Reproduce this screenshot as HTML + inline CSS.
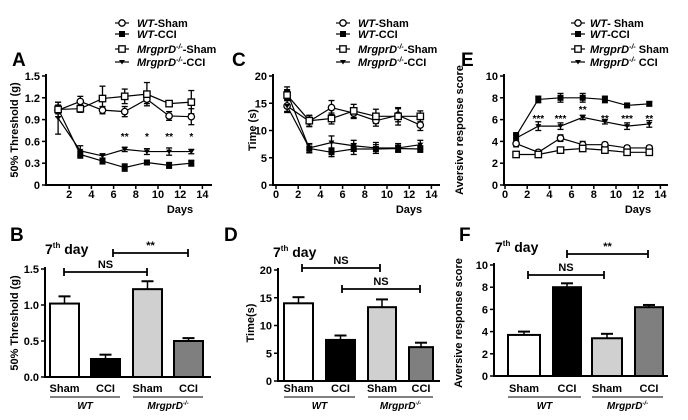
<!DOCTYPE html>
<html><head><meta charset="utf-8"><style>
html,body{margin:0;padding:0;background:#fff;}
svg{display:block;font-family:"Liberation Sans",Arial,sans-serif;font-weight:bold;}
</style></head><body>
<svg id="s" width="688" height="420" viewBox="0 0 688 420" xmlns="http://www.w3.org/2000/svg"></svg>
<script>
const S=document.getElementById('s');let h='';
function t(x,y,s,sz,o){o=o||{};h+=`<text x="${x}" y="${y}" font-size="${sz}" ${o.a?`text-anchor="${o.a}"`:''} ${o.i?'font-style="italic"':''} ${o.r?`transform="rotate(-90 ${x} ${y})"`:''} ${o.w?`font-weight="${o.w}"`:''}>${s}</text>`;}
function l(x1,y1,x2,y2,w){h+=`<line x1="${x1}" y1="${y1}" x2="${x2}" y2="${y2}" stroke="#000" stroke-width="${w||1.5}"/>`;}
function mk(type,x,y){
 if(type==0)h+=`<circle cx="${x}" cy="${y}" r="3.2" fill="#fff" stroke="#000" stroke-width="1.3"/>`;
 else if(type==1)h+=`<rect x="${x-3}" y="${y-3}" width="6" height="6" fill="#000"/>`;
 else if(type==2)h+=`<rect x="${x-3.2}" y="${y-3.2}" width="6.4" height="6.4" fill="#fff" stroke="#000" stroke-width="1.3"/>`;
 else h+=`<path d="M${x-3} ${y-2}L${x+3} ${y-2}L${x} ${y+2.5}Z" fill="#000"/>`;
}
function legend(mx,tx,ys,lab){
 ys.forEach((y,i)=>{l(mx-7,y,mx+7,y,1.2);mk(i,mx,y);
  h+=`<text x="${tx}" y="${y+4}" font-size="11">${lab[i]}</text>`;});
}
const LA=['<tspan font-style="italic">WT</tspan>-Sham','<tspan font-style="italic">WT</tspan>-CCI','<tspan font-style="italic">MrgprD<tspan font-size="7" dy="-4">-/-</tspan></tspan><tspan dy="4">-Sham</tspan>','<tspan font-style="italic">MrgprD<tspan font-size="7" dy="-4">-/-</tspan></tspan><tspan dy="4">-CCI</tspan>'];
const LE=['<tspan font-style="italic">WT</tspan>- Sham','<tspan font-style="italic">WT</tspan>-CCI','<tspan font-style="italic">MrgprD<tspan font-size="7" dy="-4">-/-</tspan></tspan><tspan dy="4"> Sham</tspan>','<tspan font-style="italic">MrgprD<tspan font-size="7" dy="-4">-/-</tspan></tspan><tspan dy="4"> CCI</tspan>'];
const days=[1,3,5,7,9,11,13];
function linePanel(o){
 const X=d=>o.x0+d*11.1, Y=v=>o.yb-(v/o.ymax)*(o.yb-76);
 l(o.ax,74,o.ax,o.yb+1,2);l(o.ax-1,o.yb,o.xe,o.yb,2);
 o.yt.forEach(v=>{l(o.ax-4,Y(v),o.ax,Y(v),1.5);t(o.ax-6,Y(v)+4,v,11,{a:'end'});});
 o.xt.forEach(d=>{l(X(d),o.yb,X(d),o.yb+4,1.5);t(X(d),198,d,11,{a:'middle'});});
 t(o.x0+133,213,'Days',11,{a:'middle'});
 t(o.ylx,130,o.yl,11,{a:'middle',r:1});
 o.data.forEach((ser,si)=>{
  let p=ser.map((v,i)=>`${X(days[i])},${Y(v)}`).join(' ');
  h+=`<polyline points="${p}" fill="none" stroke="#000" stroke-width="1.2"/>`;
  ser.forEach((v,i)=>{const e=o.err[si][i]*(o.yb-76)/o.ymax;const x=X(days[i]),y=Y(v);
   l(x,y-e,x,y+e,1.3);l(x-3,y-e,x+3,y-e,1.3);l(x-3,y+e,x+3,y+e,1.3);});
 });
 o.data.forEach((ser,si)=>ser.forEach((v,i)=>mk(si,X(days[i]),Y(v))));
 (o.stars||[]).forEach(s=>t(X(s[0]),s[2],s[1],10,{a:'middle'}));
}
linePanel({x0:47,ax:46,xe:212,yb:185,ymax:1.5,yt:[0.0,0.3,0.6,0.9,1.2,1.5].map(v=>v.toFixed(1)).map(Number),xt:[2,4,6,8,10,12,14],ylx:18,yl:'50% Threshold (g)',
 data:[[1.03,1.15,1.03,1.01,1.18,0.95,0.94],[1.05,0.42,0.33,0.24,0.31,0.27,0.30],[1.04,1.05,1.19,1.22,1.25,1.12,1.14],[0.92,0.47,0.40,0.49,0.46,0.46,0.46]],
 err:[[.05,.07,.05,.07,.06,.06,.11],[.05,.05,.04,.05,.03,.04,.04],[.1,.05,.17,.1,.16,.03,.16],[.22,.07,.03,.03,.04,.05,.03]],
 stars:[[7,'**',140],[9,'*',140],[11,'**',140],[13,'*',140]]});
linePanel({x0:276,ax:273,xe:440,yb:185,ymax:20,yt:[0,5,10,15,20],xt:[0,2,4,6,8,10,12,14],ylx:256,yl:'Time (s)',
 data:[[14.5,11.7,14.2,13.2,11.8,12.8,11],[17,6.7,6,6.6,6.6,6.7,6.6],[16.5,11.8,12.2,13.6,12.6,12.6,12.6],[14.5,6.8,7.8,7.2,6.8,6.8,7.4]],
 err:[[1,1,1.3,1,1,1.2,1],[1,.8,.8,1,.8,.6,.6],[1,1,1,1.2,1.3,1.6,1],[1.2,.8,1.2,1,1,.8,.8]]});
linePanel({x0:505,ax:504,xe:668,yb:185,ymax:10,yt:[0,2,4,6,8,10],xt:[0,2,4,6,8,10,12,14],ylx:463,yl:'Aversive response score',
 data:[[3.8,3.0,4.3,3.7,3.7,3.4,3.4],[4.5,7.85,8,8,7.85,7.3,7.45],[2.8,2.8,3.2,3.35,3.2,3.0,3.0],[4.3,5.4,5.4,6.2,5.8,5.4,5.6]],
 err:[[.3,.2,.3,.3,.2,.2,.2],[.3,.3,.4,.4,.3,.15,.2],[.15,.2,.15,.2,.2,.2,.2],[.3,.4,.3,.2,.2,.3,.3]],
 stars:[[3,'***',122],[5,'***',122],[7,'**',113],[9,'**',122],[11,'***',122],[13,'**',122]]});
legend(122,137,[23,34,49,62],LA);legend(343,358,[23,34,49,62],LA);legend(578,590,[23,34,49,62],LE);
t(12,66,'A',19);t(232,66,'C',19);t(461,66,'E',19);
t(10,241,'B',19);t(224,241,'D',19);t(459,241,'F',19);
const fills=['#fff','#000','#d0d0d0','#7f7f7f'];
function barPanel(o){
 const Y=v=>o.yb-(v/o.ymax)*(o.yb-o.yt0);
 o.bars.forEach((b,i)=>{const[x1,x2]=b,v=o.v[i],e=o.e[i],cx=(x1+x2)/2;
  l(cx,Y(v),cx,Y(e),1.5);l(cx-6,Y(e),cx+6,Y(e),2);
  h+=`<rect x="${x1}" y="${Y(v)}" width="${x2-x1}" height="${o.yb-Y(v)}" fill="${fills[i]}" stroke="#000" stroke-width="2"/>`;
  t(cx,392,i%2?'CCI':'Sham',11,{a:'middle'});});
 l(o.ax,o.yt0-2,o.ax,o.yb+1,2);l(o.ax-1,o.yb,o.xe,o.yb,2);
 o.ticks.forEach(v=>{l(o.ax-4,Y(v),o.ax,Y(v),1.5);t(o.ax-6,Y(v)+4,v,11,{a:'end'});});
 l(o.bars[0][0],397,o.bars[1][1],397,1);l(o.bars[2][0],397,o.bars[3][1],397,1);
 t((o.bars[0][0]+o.bars[1][1])/2,409,'WT',10,{a:'middle',i:1});
 h+=`<text x="${(o.bars[2][0]+o.bars[3][1])/2}" y="409" font-size="10" text-anchor="middle" font-style="italic">MrgprD<tspan font-size="6" dy="-4">-/-</tspan></text>`;
 t(o.ylx,323,o.yl,11,{a:'middle',r:1});
 h+=`<text x="${o.dx}" y="${o.dy}" font-size="14">7<tspan font-size="8" dy="-6">th</tspan><tspan dy="6"> day</tspan></text>`;
 o.br.forEach(b=>{l(b[0],b[2],b[1],b[2],1.8);l(b[0],b[2]-4,b[0],b[2]+4,1.8);l(b[1],b[2]-4,b[1],b[2]+4,1.8);t((b[0]+b[1])/2,b[2]-4,b[3],11,{a:'middle'});});
}
barPanel({ax:45,xe:211,yb:377,yt0:269,ymax:1.5,ticks:['0.0','0.5','1.0','1.5'],bars:[[50,79],[91,120],[133,162],[174,203]],v:[1.02,.25,1.22,.5],e:[1.12,.31,1.33,.54],ylx:18,yl:'50% Threshold (g)',dx:45,dy:254,br:[[64,147,272,'NS'],[113,188,253,'**']]});
barPanel({ax:278,xe:440,yb:381,yt0:270,ymax:20,ticks:[0,5,10,15,20],bars:[[284,313],[326,355],[368,396],[409,433]],v:[14,7.4,13.3,6.1],e:[15.1,8.2,14.7,6.9],ylx:254,yl:'Time(s)',dx:273,dy:257,br:[[302,380,268,'NS'],[342,420,289,'NS']]});
barPanel({ax:494,xe:668,yb:376,yt0:265,ymax:10,ticks:[0,2,4,6,8,10],bars:[[508,540],[553,581],[592,622],[635,663]],v:[3.7,8,3.4,6.2],e:[4,8.35,3.8,6.4],ylx:462,yl:'Aversive response score',dx:495,dy:252,br:[[528,604,275,'NS'],[567,648,254,'**']]});
S.innerHTML=h;
</script>
</body></html>
